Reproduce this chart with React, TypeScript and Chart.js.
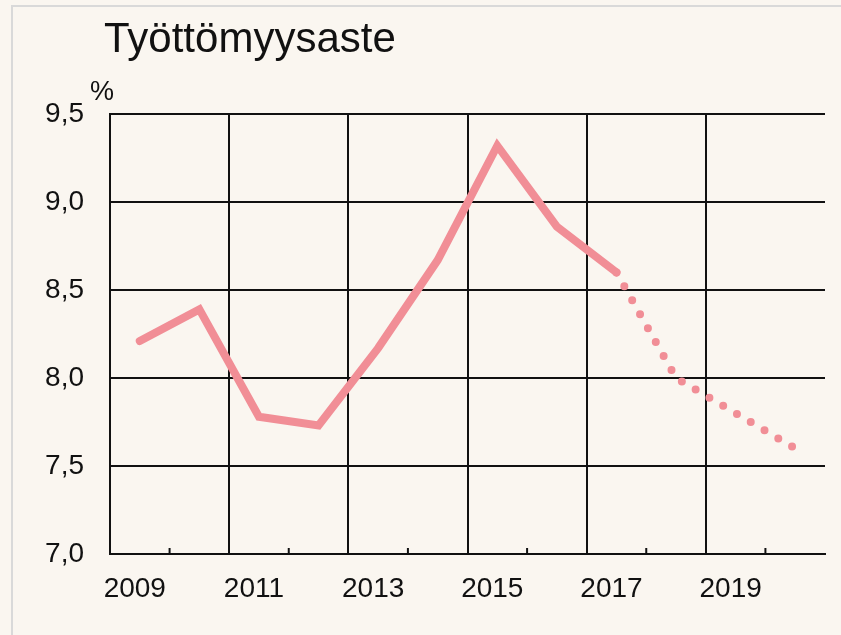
import React, { useEffect, useRef } from "react";
import { Chart, registerables } from "chart.js";

Chart.register(...registerables);

const titleText = "Työttömyysaste";
const unitText = "%";
const years = ["2009", "2010", "2011", "2012", "2013", "2014", "2015", "2016", "2017", "2018", "2019", "2020"];
const unemployment = [8.21, 8.39, 7.78, 7.73, 8.17, 8.67, 9.32, 8.86, 8.6, 8.0, 7.8, 7.6];
const forecastFrom = 8; // index of last actual value (2017); after it dotted
const yMin = 7.0;
const yMax = 9.5;
const yStep = 0.5;

const FONT = "'Liberation Sans', Arial, Helvetica, sans-serif";
const BG = "#FAF6F0";
const LINE = "#F18E96";
const INK = "#111111";

const framePlugin = {
  id: "frame",
  beforeDraw(chart: any) {
    const { ctx, width, height } = chart;
    ctx.save();
    ctx.fillStyle = BG;
    ctx.fillRect(0, 0, width, height);
    ctx.fillStyle = "#D9D9D9";
    ctx.fillRect(11, 5, 2, height - 5);
    ctx.fillRect(11, 5, width - 11, 2);
    ctx.restore();
  },
  beforeDatasetsDraw(chart: any) {
    const { ctx, chartArea, scales } = chart;
    const x = scales.x;
    ctx.save();
    ctx.strokeStyle = INK;
    ctx.lineWidth = 2;
    for (let i = 1; i < years.length; i += 2) {
      const px = (x.getPixelForValue(i - 1) + x.getPixelForValue(i)) / 2;
      ctx.beginPath();
      ctx.moveTo(px, chartArea.bottom);
      ctx.lineTo(px, chartArea.bottom - 6);
      ctx.stroke();
    }
    ctx.restore();
  },
  afterDraw(chart: any) {
    const { ctx } = chart;
    ctx.save();
    ctx.fillStyle = INK;
    ctx.textBaseline = "alphabetic";
    ctx.textAlign = "left";
    ctx.font = `42px ${FONT}`;
    ctx.fillText(titleText, 104, 52);
    ctx.font = `27px ${FONT}`;
    ctx.fillText(unitText, 90, 100);
    ctx.restore();
  },
};

export default function App() {
  const ref = useRef<HTMLCanvasElement | null>(null);

  useEffect(() => {
    document.body.style.margin = "0";
    const canvas = ref.current;
    if (!canvas) return;
    const chart = new Chart(canvas, {
      type: "line",
      data: {
        labels: years,
        datasets: [
          {
            label: titleText,
            data: unemployment,
            borderColor: LINE,
            borderWidth: 8,
            borderCapStyle: "round",
            borderJoinStyle: "miter",
            pointRadius: 0,
            pointHoverRadius: 0,
            tension: 0,
            fill: false,
            segment: {
              borderDash: (ctx: any) => (ctx.p0DataIndex >= forecastFrom ? [0, 16] : undefined),
              borderWidth: (ctx: any) => (ctx.p0DataIndex >= forecastFrom ? 8 : 8),
            },
          },
        ],
      },
      options: {
        responsive: true,
        maintainAspectRatio: false,
        animation: false,
        events: [],
        layout: { padding: { top: 114, right: 16, left: 0, bottom: 0 } },
        plugins: {
          legend: { display: false },
          title: { display: false },
          tooltip: { enabled: false },
        },
        scales: {
          x: {
            type: "category",
            offset: true,
            afterFit: (s: any) => {
              s.height = 81;
            },
            grid: {
              offset: true,
              drawTicks: false,
              lineWidth: 2,
              color: (c: any) => (c.index % 2 === 0 ? INK : "rgba(0,0,0,0)"),
            },
            border: { display: true, color: INK, width: 2 },
            ticks: {
              autoSkip: false,
              maxRotation: 0,
              padding: 18,
              labelOffset: -5,
              color: INK,
              font: { family: FONT, size: 28 },
              callback: (_v: any, i: number) => (i % 2 === 0 ? years[i] : ""),
            },
          },
          y: {
            min: yMin,
            max: yMax,
            afterFit: (s: any) => {
              s.width = 110;
            },
            grid: {
              drawTicks: false,
              lineWidth: 2,
              color: INK,
            },
            border: { display: true, color: INK, width: 2 },
            ticks: {
              stepSize: yStep,
              padding: 26,
              color: INK,
              font: { family: FONT, size: 28 },
              callback: (v: any) => Number(v).toFixed(1).replace(".", ","),
            },
          },
        },
      },
      plugins: [framePlugin],
    });
    return () => chart.destroy();
  }, []);

  return (
    <div style={{ position: "fixed", left: 0, top: 0, width: 841, height: 635, background: BG }}>
      <canvas ref={ref} />
    </div>
  );
}
